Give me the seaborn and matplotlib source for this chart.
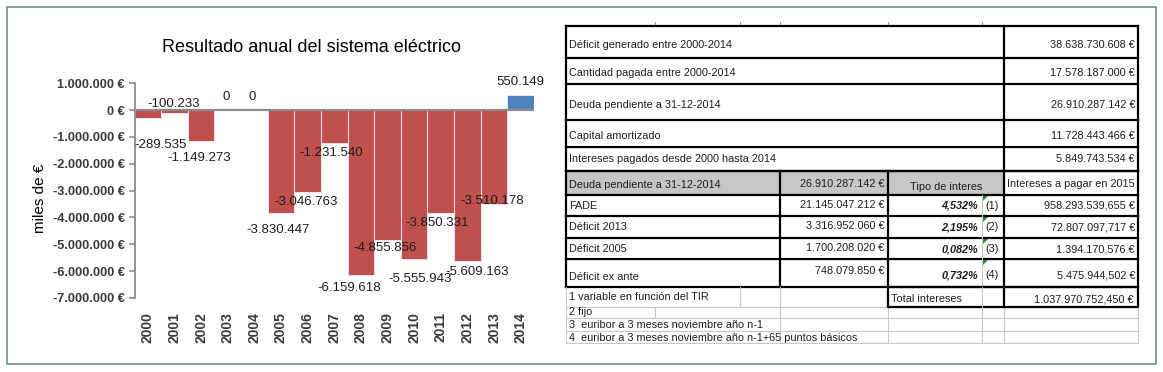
import matplotlib
matplotlib.use("Agg")
import matplotlib.pyplot as plt
import seaborn as sns
import pandas as pd
from matplotlib.patches import Rectangle, Polygon

# ---------------- data ----------------
years = ["2000", "2001", "2002", "2003", "2004", "2005", "2006", "2007",
         "2008", "2009", "2010", "2011", "2012", "2013", "2014"]
results = [-289535, -100233, -1149273, 0, 0, -3830447, -3046763, -1231540,
           -6159618, -4855856, -5555943, -3850331, -5609163, -3510178, 550149]
y_ticks = [1000000, 0, -1000000, -2000000, -3000000, -4000000, -5000000,
           -6000000, -7000000]
title = "Resultado anual del sistema eléctrico"
y_title = "miles de €"

summary_labels = ["Déficit generado entre 2000-2014",
                  "Cantidad pagada entre 2000-2014",
                  "Deuda pendiente a 31-12-2014",
                  "Capital amortizado",
                  "Intereses pagados desde 2000 hasta 2014"]
summary_values = ["38.638.730.608 €", "17.578.187.000 €", "26.910.287.142 €",
                  "11.728.443.466 €", "5.849.743.534 €"]
header = ["Deuda pendiente a 31-12-2014", "26.910.287.142 €",
          "Tipo de interes", "Intereses a pagar en 2015"]
debt_names = ["FADE", "Déficit 2013", "Déficit 2005", "Déficit ex ante"]
debt_amounts = ["21.145.047.212 €", "3.316.952.060 €", "1.700.208.020 €",
                "748.079.850 €"]
debt_rates = ["4,532%", "2,195%", "0,082%", "0,732%"]
debt_notes = ["(1)", "(2)", "(3)", "(4)"]
debt_interest = ["958.293.539,655 €", "72.807.097,717 €", "1.394.170,576 €",
                 "5.475.944,502 €"]
total_label = "Total intereses"
total_value = "1.037.970.752,450 €"
footnotes = ["1 variable en función del TIR", "2 fijo",
             "3  euribor a 3 meses noviembre año n-1",
             "4  euribor a 3 meses noviembre año n-1+65 puntos básicos"]

# ---------------- layout / style (pixels) ----------------
W, H = 1163, 372
RED, BLUE = "#C0504D", "#4F81BD"
GRID = "#8c8c8c"
TXT = "#1e1e1e"
# data label offsets (dx, dy) in pixels relative to bar end
label_off = [(13, 27), (-1, -9), (-2, 17), (-2, -13), (-2, -13), (-3, 17),
             (-2, 10), (-3, 10), (-12, 13), (-2, 8), (6, 20), (-4, 10),
             (10, 11), (-2, -3), (0, -13)]

sns.set_theme(style="white")
plt.rcParams["font.family"] = ["Liberation Sans", "DejaVu Sans"]

fig = plt.figure(figsize=(W / 100, H / 100), dpi=100)
fig.patch.set_facecolor("white")

# ---------------- chart ----------------
ax_l, ax_r, ax_t, ax_b = 134.5, 534, 83.3, 298
ax = fig.add_axes([ax_l / W, 1 - ax_b / H, (ax_r - ax_l) / W, (ax_b - ax_t) / H])
df = pd.DataFrame({"year": years, "value": results})
df["sign"] = ["pos" if v > 0 else "neg" for v in results]
sns.barplot(data=df, x="year", y="value", hue="sign", order=years,
            palette={"neg": RED, "pos": BLUE}, dodge=False, width=1.0,
            saturation=1, edgecolor="#f0e6e6", linewidth=0.7, legend=False,
            ax=ax, zorder=2)
ax.set_xlim(-0.5, len(years) - 0.5)
ax.set_ylim(min(y_ticks), max(y_ticks))
ax.axhline(0, color=GRID, lw=1.6, zorder=3)
ax.set_facecolor("white")
for s in ["top", "right", "bottom"]:
    ax.spines[s].set_visible(False)
ax.spines["left"].set_color(GRID)
ax.spines["left"].set_linewidth(1.3)
ax.set_yticks(y_ticks)
ax.set_yticklabels([f"{v:,}".replace(",", ".") + " €" for v in y_ticks],
                   fontsize=9.2, fontweight="bold", color="#3a3a3a")
ax.tick_params(axis="y", direction="out", length=4, width=1.2, color=GRID,
               pad=3, left=True)
ax.tick_params(axis="x", length=0, pad=10)
ax.set_xticks(range(len(years)))
ax.set_xticklabels(years, rotation=90, fontsize=10, fontweight="bold",
                   color="#3a3a3a")
ax.set_xlabel("")
ax.set_ylabel("")

for i, v in enumerate(results):
    dx, dy = label_off[i]
    ax.annotate(f"{v:,}".replace(",", "."), xy=(i, v),
                xytext=(dx * 0.72, -dy * 0.72), textcoords="offset points",
                ha="center", va="center", fontsize=9.5, color=TXT, zorder=5)

fig.text(311 / W, 1 - 48 / H, title, ha="center", va="center", fontsize=13,
         color="black")
fig.text(40 / W, 1 - 198 / H, y_title, ha="center", va="center", rotation=90,
         fontsize=11, color="black")

# ---------------- table ----------------
t = fig.add_axes([0, 0, 1, 1], zorder=-1)
t.set_xlim(0, W)
t.set_ylim(H, 0)
t.axis("off")

TF = ["Liberation Sans Narrow", "Liberation Sans", "DejaVu Sans"]
FS = 7.8
L, R = 566, 1138
C1, C2, C3, C4 = 780, 888, 982, 1004
thick = dict(color="black", lw=1.6, solid_capstyle="projecting")
thin = dict(color="#c8c8c8", lw=0.8)

# figure border
t.add_patch(Rectangle((6.5, 7), 1149, 357, fill=False, ec="#7a9a98", lw=1.3))

# header fill
hy0, hy1 = 171, 195
t.add_patch(Rectangle((L, hy0), C4 - L, hy1 - hy0, color="#c6c6c6", lw=0))

# top small ticks
for x in [655, 740, C1, C2, C3]:
    t.plot([x, x], [22, 26], color="#9a9a9a", lw=0.8)

# summary rows
sy = [26, 58, 84, 120, 147, 171]
s_base = [48, 76, 108, 139, 162]
for y in sy:
    t.plot([L, R], [y, y], **thick)
t.plot([L, L], [sy[0], sy[-1]], **thick)
t.plot([R, R], [sy[0], sy[-1]], **thick)
t.plot([C4, C4], [sy[0], sy[-1]], **thick)
for k in range(len(summary_labels)):
    yb = s_base[k]
    t.text(L + 3, yb, summary_labels[k], ha="left", va="baseline",
           fontsize=FS, family=TF, color=TXT)
    t.text(R - 3, yb, summary_values[k], ha="right", va="baseline",
           fontsize=FS, family=TF, color=TXT)

# debt rows
dy = [171, 195, 216, 238, 259, 287]
d_base = [209, 230, 252, 278]
for y in dy:
    t.plot([L, R], [y, y], **thick)
for x in [L, C1, C2, C4, R]:
    t.plot([x, x], [dy[0], dy[-1]], **thick)
t.plot([C3, C3], [dy[1], dy[-1]], **thin)
yb = dy[1] - 7
t.text(L + 3, yb, header[0], ha="left", va="baseline", fontsize=FS,
       family=TF, color=TXT)
t.text(C2 - 4, yb - 1, header[1], ha="right", va="baseline", fontsize=FS,
       family=TF, color=TXT)
t.text((C2 + C4) / 2, yb + 2, header[2], ha="center", va="baseline",
       fontsize=FS, family=TF, color=TXT)
t.text((C4 + R) / 2, yb - 1, header[3], ha="center", va="baseline",
       fontsize=FS, family=TF, color=TXT)
for k in range(len(debt_names)):
    y0 = dy[k + 1]
    yb = d_base[k]
    t.text(L + 3, yb + (2 if k == 3 else 0), debt_names[k], ha="left",
           va="baseline", fontsize=FS, family=TF, color=TXT)
    t.text(C2 - 4, yb - (4 if k == 3 else 1), debt_amounts[k], ha="right",
           va="baseline", fontsize=FS, family=TF, color=TXT)
    t.text(C3 - 4, yb, debt_rates[k], ha="right", va="baseline",
           fontsize=FS, family=TF, style="italic", fontweight="bold",
           color=TXT)
    t.text(C3 + 3, yb, debt_notes[k], ha="left", va="baseline", fontsize=FS,
           family=TF, color=TXT)
    t.text(R - 3, yb, debt_interest[k], ha="right", va="baseline",
           fontsize=FS, family=TF, color=TXT)
    t.add_patch(Polygon([[C3 + 1, y0 + 1], [C3 + 6, y0 + 1], [C3 + 1, y0 + 6]],
                        closed=True, color="#2e8b3a", lw=0))

# footnote area grid
fy = [287, 307, 318, 331, 343]
for y in fy[1:]:
    t.plot([L, R], [y, y], **thin)
t.plot([L, L], [fy[0], fy[-1]], **thin)
t.plot([R, R], [fy[1], fy[-1]], **thin)
for x in [C1, C2, C3, C4]:
    t.plot([x, x], [fy[1], fy[-1]], **thin)
t.plot([740, 740], [fy[0], fy[1]], **thin)
t.plot([C1, C1], [fy[0], fy[1]], **thin)
t.plot([655, 655], [fy[1], fy[2]], **thin)
# total box
t.plot([C2, R, R, C2, C2], [fy[0], fy[0], fy[1], fy[1], fy[0]], **thick)
t.plot([C4, C4], [fy[0], fy[1]], **thick)
t.plot([C3, C3], [fy[0], fy[1]], **thin)
t.text(C2 + 3, fy[1] - 5, total_label, ha="left", va="baseline", fontsize=FS,
       family=TF, color=TXT)
t.text(R - 4, fy[1] - 5, total_value, ha="right", va="baseline", fontsize=FS,
       family=TF, color=TXT)
f_base = [300, 315, 328, 341]
for k, note in enumerate(footnotes):
    t.text(L + 3, f_base[k], note, ha="left", va="baseline", fontsize=FS,
           family=TF, color=TXT)

fig.savefig("out.png", dpi=100, facecolor="white")
